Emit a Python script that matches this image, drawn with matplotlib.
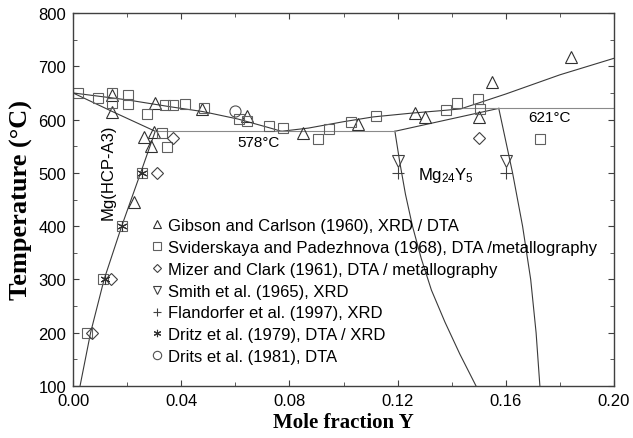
import numpy as np
import matplotlib as mpl
mpl.use('Agg')
import matplotlib.pyplot as plt
from matplotlib.ticker import MultipleLocator, FormatStrFormatter

# --- experimental points (mole fraction Y, temperature in C) ---
gibson_x = [0.0144, 0.0144, 0.0304, 0.0263, 0.0300, 0.0290, 0.0226, 0.0478,
            0.0645, 0.0852, 0.1052, 0.1263, 0.1300, 0.1500, 0.1548, 0.1840]
gibson_t = [647, 615, 632, 567, 577, 550, 445, 619,
            606, 575, 592, 613, 604, 604, 671, 717]

svid_x = [0.0020, 0.0093, 0.0144, 0.0144, 0.0204, 0.0204, 0.0274, 0.0340,
          0.0370, 0.0415, 0.0485, 0.0615, 0.0645, 0.0726, 0.0778, 0.0904,
          0.0948, 0.1026, 0.1119, 0.1378, 0.1420, 0.1496, 0.1504, 0.1726,
          0.0330, 0.0348, 0.0050, 0.0110, 0.0180, 0.0256]
svid_t = [650, 641, 649, 632, 647, 629, 611, 627,
          627, 629, 621, 601, 597, 588, 584, 563,
          582, 596, 607, 618, 632, 638, 619, 564,
          575, 548, 200, 300, 400, 500]

mizer_x = [0.0070, 0.0140, 0.0310, 0.0370, 0.1500]
mizer_t = [200, 300, 500, 565, 565]

smith_x = [0.1200, 0.1600]
smith_t = [523, 522]

fland_x = [0.1200, 0.1600]
fland_t = [500, 500]

dritz_x = [0.0120, 0.0180, 0.0256]
dritz_t = [300, 400, 500]

drits_x = [0.0600]
drits_t = [616]

# --- calculated phase boundaries ---
solvus_x = [0.0026, 0.0065, 0.0115, 0.0180, 0.0250, 0.0304]
solvus_t = [100, 200, 300, 400, 500, 578]

solidus_x = [0.0, 0.015, 0.0304]
solidus_t = [650, 614, 578]

liq_left_x = [0.0, 0.020, 0.036, 0.048, 0.061, 0.073, 0.077]
liq_left_t = [650, 637, 624, 615, 601, 584, 578]

liq_right_x = [0.077, 0.087, 0.100, 0.111, 0.125, 0.1367, 0.1433, 0.160, 0.180, 0.200]
liq_right_t = [578, 584, 596, 605, 612, 617, 620, 648, 684, 715]

mg24_top_x = [0.119, 0.1574]
mg24_top_t = [578, 621]

mg24_left_x = [0.119, 0.1208, 0.1229, 0.1255, 0.1287, 0.1325, 0.1375, 0.1430, 0.149]
mg24_left_t = [578, 520, 460, 400, 340, 280, 220, 160, 100]

mg24_right_x = [0.1574, 0.1625, 0.1662, 0.1692, 0.1712, 0.1726]
mg24_right_t = [621, 500, 400, 300, 200, 100]

eutectic_x = [0.0304, 0.119]
eutectic_t = [578, 578]

peritectic_x = [0.1433, 0.200]
peritectic_t = [621, 621]

sans = ['Liberation Sans', 'DejaVu Sans']
serif = ['Liberation Serif', 'DejaVu Serif']
plt.rcParams['font.family'] = sans
plt.rcParams['mathtext.fontset'] = 'custom'
plt.rcParams['mathtext.rm'] = 'Liberation Sans'

fig = plt.figure(figsize=(6.33, 4.39), dpi=100)
ax = fig.add_axes([73 / 633, 52 / 439, 541 / 633, 373 / 439])

line_col = '#3a3a3a'
flat_col = '#8a8a8a'
lw = 0.8

for xs, ts in [(solvus_x, solvus_t), (solidus_x, solidus_t),
               (liq_left_x, liq_left_t), (liq_right_x, liq_right_t),
               (mg24_top_x, mg24_top_t), (mg24_left_x, mg24_left_t),
               (mg24_right_x, mg24_right_t)]:
    ax.plot(xs, ts, color=line_col, linewidth=lw)
ax.plot(eutectic_x, eutectic_t, color=flat_col, linewidth=lw)
ax.plot(peritectic_x, peritectic_t, color=flat_col, linewidth=lw)

mk = dict(linestyle='none', markerfacecolor='none', markeredgewidth=0.8)
ax.plot(gibson_x, gibson_t, marker='^', ms=8, color='#303030', **mk,
        label='Gibson and Carlson (1960), XRD / DTA')
ax.plot(svid_x, svid_t, marker='s', ms=7.5, color='#606060', **mk,
        label='Sviderskaya and Padezhnova (1968), DTA /metallography')
ax.plot(mizer_x, mizer_t, marker='D', ms=6, color='#404040', **mk,
        label='Mizer and Clark (1961), DTA / metallography')
ax.plot(smith_x, smith_t, marker='v', ms=8, color='#404040', **mk,
        label='Smith et al. (1965), XRD')
ax.plot(fland_x, fland_t, marker='+', ms=8, color='#404040', **mk,
        label='Flandorfer et al. (1997), XRD')
ax.plot(dritz_x, dritz_t, marker=(6, 2, 0), ms=7, color='#303030', **mk,
        label='Dritz et al. (1979), DTA / XRD')
ax.plot(drits_x, drits_t, marker='o', ms=8, color='#505050', **mk,
        label='Drits et al. (1981), DTA')

# labels on the diagram
ax.text(0.0685, 557, '578\u00b0C', fontsize=11, ha='center', va='center')
ax.text(0.1763, 605, '621\u00b0C', fontsize=11, ha='center', va='center')
ax.text(0.013, 503, 'Mg(HCP-A3)', fontsize=12, rotation=90,
        ha='center', va='center')
ax.text(0.138, 497, r'$\mathregular{Mg_{24}Y_5}$', fontsize=12,
        ha='center', va='center')

leg = ax.legend(loc='upper left', bbox_to_anchor=(0.146, 0.450),
                frameon=False, fontsize=12, markerscale=0.75,
                handlelength=0.6, handletextpad=0.35, labelspacing=0.41,
                borderpad=0, borderaxespad=0)

ax.set_xlim(0, 0.20)
ax.set_ylim(100, 800)
ax.xaxis.set_major_locator(MultipleLocator(0.04))
ax.xaxis.set_minor_locator(MultipleLocator(0.02))
ax.yaxis.set_major_locator(MultipleLocator(100))
ax.yaxis.set_minor_locator(MultipleLocator(50))
ax.xaxis.set_major_formatter(FormatStrFormatter('%.2f'))
ax.tick_params(which='both', direction='in', top=True, right=True,
               color='#404040', labelsize=12, pad=5)
ax.tick_params(which='major', length=4)
ax.tick_params(which='minor', length=3)
for s in ax.spines.values():
    s.set_color('#404040')
    s.set_linewidth(1.0)

ax.set_xlabel('Mole fraction Y', family=serif, fontweight='bold',
              fontsize=15, labelpad=3)
ax.set_ylabel('Temperature (\u00b0C)', family=serif, fontweight='bold',
              fontsize=19, labelpad=4)

fig.savefig('out.png', dpi=100)
plt.close(fig)
